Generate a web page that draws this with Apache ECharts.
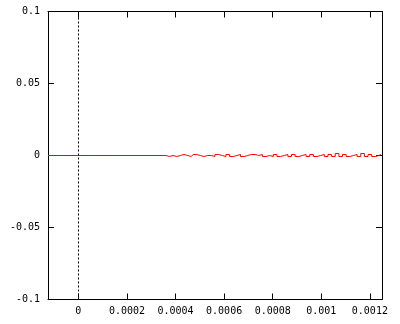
<!DOCTYPE html>
<html>
<head>
<meta charset="utf-8">
<script src="https://cdn.jsdelivr.net/npm/echarts@6/dist/echarts.min.js"></script>
<style>
  html, body { margin: 0; padding: 0; background: #fff; }
  #chart { width: 400px; height: 324px; }
</style>
</head>
<body>
<div id="chart"></div>
<script>
// tick positions
const xTicks = [0, 0.0002, 0.0004, 0.0006, 0.0008, 0.001, 0.0012];
const xRange = [-0.000125, 0.00125];
const yRange = [-0.1, 0.1];

// flat part of the trace
const flatX = [-0.000125, 0.00036];
const flatY = [0, 0];

// noisy part of the trace
const noiseX = [
  0.00036, 0.000375, 0.00039, 0.000405, 0.00042, 0.000435, 0.00045, 0.000465, 0.00048, 0.000495,
  0.00051, 0.000525, 0.00054, 0.000555, 0.00057, 0.000585, 0.0006, 0.000615, 0.00063, 0.000645,
  0.00066, 0.000675, 0.00069, 0.000705, 0.00072, 0.000735, 0.00075, 0.000765, 0.00078, 0.000795,
  0.00081, 0.000825, 0.00084, 0.000855, 0.00087, 0.000885, 0.0009, 0.000915, 0.00093, 0.000945,
  0.00096, 0.000975, 0.00099, 0.001005, 0.00102, 0.001035, 0.00105, 0.001065, 0.00108, 0.001095,
  0.00111, 0.001125, 0.00114, 0.001155, 0.00117, 0.001185, 0.0012, 0.001215, 0.00123, 0.001245
];
const noiseY = [
  0, -0.0007, 0, -0.0007, 0, 0.0007, 0, -0.0007, 0.0007, 0,
  -0.0007, 0, 0, -0.0007, 0.0007, 0, -0.0007, 0.0007, -0.0007, 0,
  0.0007, -0.0007, 0, 0.0007, 0.0007, 0, 0.0007, -0.0007, 0, -0.0007,
  0.0007, -0.0007, 0, 0.0007, -0.0007, 0.0007, -0.0007, 0, 0.0007, -0.0007,
  0.0007, -0.0007, 0, 0.0007, -0.0007, 0.0007, -0.0007, 0.0014, -0.0007, 0.0007,
  -0.0007, 0, 0.0007, -0.0007, 0.0014, -0.0007, 0.0007, -0.0007, 0, 0.0007
];

const font = { fontFamily: "DejaVu Sans Mono", fontSize: 10, color: "#000" };
const axisLine = { show: true, onZero: false, lineStyle: { color: "#000", width: 1 } };
const tick = (extra) => Object.assign({ show: true, inside: true, length: 6, lineStyle: { color: "#000" } }, extra);
const fmt = (v) => String(+(+v).toPrecision(6));

const trace = flatX.map((x, i) => [x, flatY[i]])
  .concat(noiseX.map((x, i) => [x, noiseY[i]]));

const chart = echarts.init(document.getElementById("chart"), null, { renderer: "canvas" });
chart.setOption({
  animation: false,
  backgroundColor: "#fff",
  grid: { left: 48, top: 11.5, right: 18, bottom: 24.5 },
  xAxis: [
    {
      type: "value", min: xRange[0], max: xRange[1],
      axisLine, splitLine: { show: false },
      axisTick: tick({ customValues: xTicks }),
      axisLabel: Object.assign({ customValues: xTicks, margin: 7, formatter: fmt }, font),
    },
    {
      type: "value", position: "top", min: xRange[0], max: xRange[1],
      axisLine, splitLine: { show: false },
      axisTick: tick({ customValues: xTicks }),
      axisLabel: { show: false },
    },
  ],
  yAxis: [
    {
      type: "value", min: yRange[0], max: yRange[1], interval: 0.05,
      axisLine, splitLine: { show: false },
      axisTick: tick(),
      axisLabel: Object.assign({ margin: 8, formatter: fmt }, font),
    },
    {
      type: "value", position: "right", min: yRange[0], max: yRange[1], interval: 0.05,
      axisLine, splitLine: { show: false },
      axisTick: tick(),
      axisLabel: { show: false },
    },
  ],
  series: [
    {
      type: "line",
      data: trace,
      step: "middle",
      showSymbol: false,
      symbol: "none",
      lineStyle: { color: "#ff0000", width: 1 },
      markLine: {
        silent: true,
        symbol: "none",
        label: { show: false },
        lineStyle: { color: "#000", type: [2, 2], width: 1 },
        data: [{ xAxis: 0 }],
      },
    },
  ],
});
</script>
</body>
</html>
